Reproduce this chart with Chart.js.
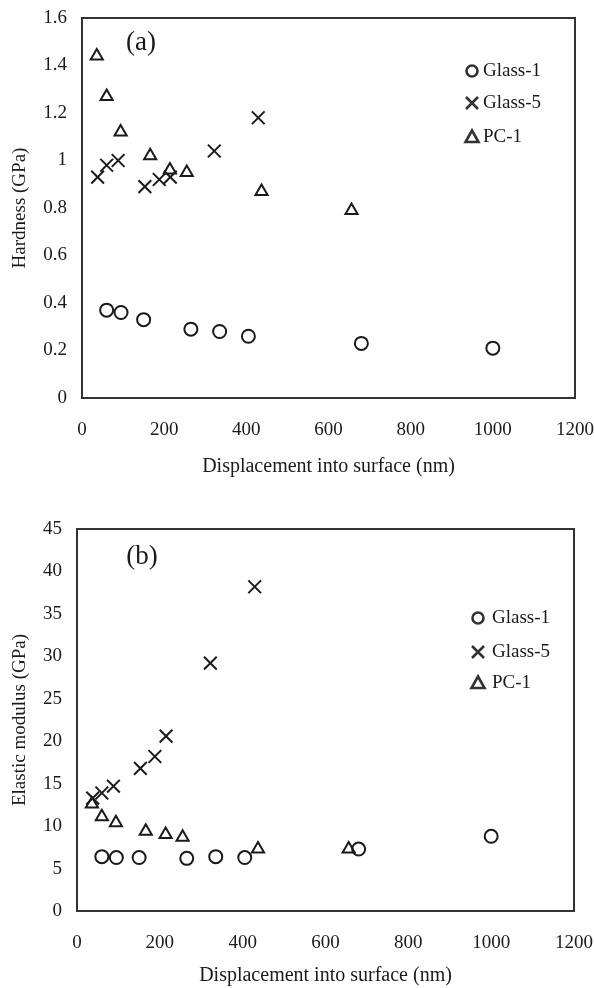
<!DOCTYPE html>
<html>
<head>
<meta charset="utf-8">
<script src="https://cdn.jsdelivr.net/npm/chart.js@4.4.0/dist/chart.umd.min.js"></script>
<style>
  html, body { margin: 0; padding: 0; background: #fff; }
  canvas { display: block; }
</style>
</head>
<body>
<canvas id="chartA" width="594" height="494"></canvas>
<canvas id="chartB" width="594" height="494"></canvas>
<script>
// displacement into surface (nm)
var xGlass1 = [60, 95, 150, 265, 335, 405, 680, 1000];
var xGlass5 = [38, 60, 88, 153, 188, 215, 322, 429];
var xPC1 = [36, 60, 94, 166, 214, 255, 437, 656];

// (a) hardness (GPa)
var hardGlass1 = [0.37, 0.36, 0.33, 0.29, 0.28, 0.26, 0.23, 0.21];
var hardGlass5 = [0.93, 0.98, 1.00, 0.89, 0.92, 0.93, 1.04, 1.18];
var hardPC1 = [1.44, 1.27, 1.12, 1.02, 0.96, 0.95, 0.87, 0.79];

// (b) elastic modulus (GPa)
var modGlass1 = [6.4, 6.3, 6.3, 6.2, 6.4, 6.3, 7.3, 8.8];
var modGlass5 = [13.3, 13.9, 14.7, 16.8, 18.2, 20.6, 29.2, 38.2];
var modPC1 = [12.6, 11.1, 10.4, 9.4, 9.0, 8.7, 7.3, 7.3];

var seriesNames = ["Glass-1", "Glass-5", "PC-1"];
var xTicks = [0, 200, 400, 600, 800, 1000, 1200];
var hardTicks = [0, 0.2, 0.4, 0.6, 0.8, 1, 1.2, 1.4, 1.6];
var modTicks = [0, 5, 10, 15, 20, 25, 30, 35, 40, 45];

var ink = "#1a1a1a";
var serif = '"Liberation Serif", "Times New Roman", serif';

function pts(xs, ys) {
  return xs.map(function(x, i) { return {x: x, y: ys[i]}; });
}

function legendIcon(ctx, style, x, y) {
  ctx.beginPath();
  if (style === "circle") {
    ctx.arc(x, y, 5.5, 0, Math.PI * 2);
  } else if (style === "crossRot") {
    ctx.moveTo(x - 6, y - 6); ctx.lineTo(x + 6, y + 6);
    ctx.moveTo(x + 6, y - 6); ctx.lineTo(x - 6, y + 6);
  } else {
    ctx.moveTo(x, y - 6.5); ctx.lineTo(x + 6.5, y + 5); ctx.lineTo(x - 6.5, y + 5);
    ctx.closePath();
  }
  ctx.stroke();
}

var framePlugin = {
  id: "frame",
  afterDraw: function(chart, args, o) {
    var ctx = chart.ctx, a = chart.chartArea;
    ctx.save();
    ctx.strokeStyle = "#333";
    ctx.lineWidth = 2;
    ctx.strokeRect(a.left, a.top, a.right - a.left, a.bottom - a.top);

    ctx.fillStyle = ink;
    ctx.font = "27px " + serif;
    ctx.textAlign = "center";
    ctx.textBaseline = "middle";
    ctx.fillText(o.tag, a.left + o.tagX, a.top + o.tagY);

    // legend inside the plot
    ctx.font = "19px " + serif;
    ctx.textAlign = "left";
    ctx.lineWidth = 2.6;
    chart.data.datasets.forEach(function(ds, i) {
      var lx = a.right - o.legX, ly = a.top + o.legRows[i];
      legendIcon(ctx, ds.pointStyle, lx, ly);
      ctx.fillText(ds.label, lx + o.legGap, ly);
    });
    ctx.restore();
  }
};

function plain(v) { return String(v); }

function makeChart(id, ys, yTicks, yMax, yTitle, layout, frameOpts) {
  var styles = ["circle", "crossRot", "triangle"];
  var radii = [6.5, 9, 7];
  var xs = [xGlass1, xGlass5, xPC1];
  var datasets = seriesNames.map(function(name, i) {
    return {
      label: name,
      data: pts(xs[i], ys[i]),
      pointStyle: styles[i],
      pointRadius: radii[i],
      pointBorderWidth: 2,
      pointBorderColor: ink,
      pointBackgroundColor: "rgba(0,0,0,0)",
      showLine: false
    };
  });
  return new Chart(id, {
    type: "scatter",
    data: {datasets: datasets},
    plugins: [framePlugin],
    options: {
      responsive: false,
      animation: false,
      devicePixelRatio: 1,
      layout: {padding: {left: 0, top: layout.top, right: layout.right, bottom: 0}},
      plugins: {
        legend: {display: false},
        tooltip: {enabled: false},
        frame: frameOpts
      },
      scales: {
        x: {
          type: "linear", min: 0, max: 1200,
          afterBuildTicks: function(s) { s.ticks = xTicks.map(function(v) { return {value: v}; }); },
          afterFit: function(s) { s.height = layout.xHeight; s.paddingLeft = 0; s.paddingRight = 0; },
          grid: {display: false, drawTicks: false},
          border: {display: false},
          ticks: {color: ink, font: {family: serif, size: 19}, padding: layout.xTickPad, maxRotation: 0, callback: plain},
          title: {display: true, text: "Displacement into surface (nm)", color: ink,
                  font: {family: serif, size: 20}, padding: {top: 0, bottom: layout.xTitlePad}}
        },
        y: {
          type: "linear", min: 0, max: yMax,
          afterBuildTicks: function(s) { s.ticks = yTicks.map(function(v) { return {value: v}; }); },
          afterFit: function(s) { s.width = layout.yWidth; s.paddingTop = 0; s.paddingBottom = 0; },
          grid: {display: false, drawTicks: false},
          border: {display: false},
          ticks: {color: ink, font: {family: serif, size: 19}, padding: 15, callback: plain},
          title: {display: true, text: yTitle, color: ink,
                  font: {family: serif, size: 19}, padding: {top: 9, bottom: 0}}
        }
      }
    }
  });
}

makeChart("chartA", [hardGlass1, hardGlass5, hardPC1], hardTicks, 1.6, "Hardness (GPa)",
  {top: 18, right: 19, xHeight: 96, yWidth: 82, xTickPad: 21, xTitlePad: 15},
  {tag: "(a)", tagX: 59, tagY: 25, legX: 103, legGap: 11, legRows: [53, 85, 119]});

makeChart("chartB", [modGlass1, modGlass5, modPC1], modTicks, 45, "Elastic modulus (GPa)",
  {top: 35, right: 20, xHeight: 77, yWidth: 77, xTickPad: 21, xTitlePad: 0},
  {tag: "(b)", tagX: 65, tagY: 28, legX: 96, legGap: 14, legRows: [89, 123, 154]});
</script>
</body>
</html>
